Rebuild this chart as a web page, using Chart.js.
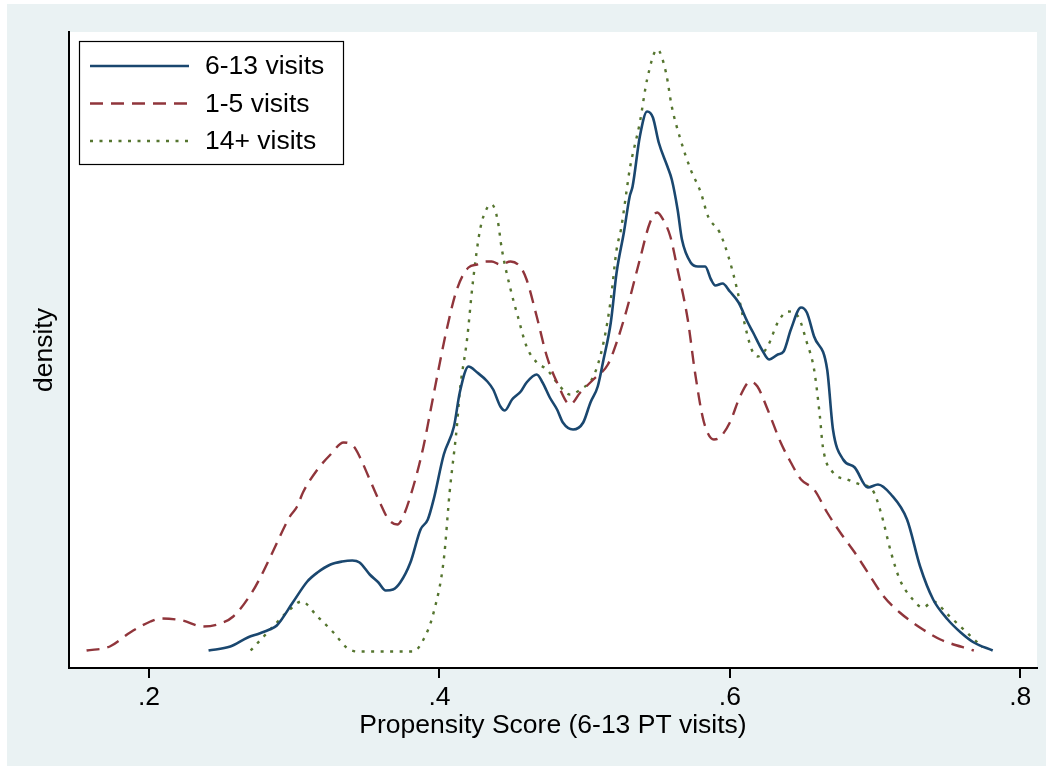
<!DOCTYPE html>
<html>
<head>
<meta charset="utf-8">
<script src="https://cdn.jsdelivr.net/npm/chart.js@4.4.1/dist/chart.umd.min.js"></script>
<style>
  html, body { margin: 0; padding: 0; background: #ffffff; }
  #wrap { position: absolute; left: 7px; top: 4px; width: 1039px; height: 762px; background: #eaf2f3; }
  canvas { display: block; }
</style>
</head>
<body>
<div id="wrap"><canvas id="c"></canvas></div>
<script>
// ---- data ----
const seriesNames = ['6-13 visits', '1-5 visits', '14+ visits'];

const visits6to13X = [0.241,0.256,0.268,0.276,0.283,0.288,0.299,0.309,0.316,0.325,0.333,0.340,0.345,0.352,0.358,0.363,0.368,0.373,0.380,0.387,0.392,0.396,0.403,0.410,0.414,0.420,0.426,0.433,0.437,0.442,0.445,0.450,0.456,0.460,0.467,0.471,0.476,0.481,0.485,0.492,0.499,0.504,0.509,0.513,0.518,0.522,0.527,0.531,0.533,0.538,0.543,0.547,0.551,0.557,0.560,0.564,0.567,0.573,0.578,0.583,0.587,0.590,0.595,0.600,0.606,0.612,0.616,0.622,0.627,0.633,0.637,0.642,0.649,0.653,0.658,0.667,0.671,0.678,0.686,0.695,0.702,0.711,0.722,0.731,0.740,0.750,0.759,0.768,0.781];
const visits6to13Y = [0.01,0.05,0.14,0.18,0.22,0.26,0.49,0.70,0.79,0.87,0.90,0.91,0.89,0.77,0.69,0.61,0.62,0.69,0.89,1.22,1.32,1.52,1.97,2.25,2.59,2.85,2.79,2.70,2.62,2.45,2.41,2.52,2.60,2.69,2.77,2.69,2.54,2.42,2.29,2.22,2.29,2.49,2.65,2.92,3.29,3.79,4.19,4.55,4.65,5.15,5.40,5.34,5.09,4.85,4.72,4.42,4.12,3.89,3.85,3.85,3.72,3.66,3.68,3.60,3.49,3.30,3.19,3.02,2.92,2.97,3.00,3.22,3.44,3.39,3.15,2.82,2.22,1.92,1.84,1.64,1.67,1.57,1.32,0.85,0.52,0.32,0.19,0.09,0.01];

const visits1to5X = [0.157,0.173,0.187,0.201,0.208,0.223,0.237,0.247,0.258,0.270,0.277,0.285,0.297,0.302,0.306,0.316,0.325,0.334,0.341,0.345,0.352,0.359,0.365,0.371,0.375,0.382,0.389,0.394,0.398,0.405,0.412,0.420,0.426,0.432,0.436,0.442,0.449,0.456,0.460,0.467,0.474,0.481,0.490,0.497,0.506,0.516,0.522,0.529,0.538,0.545,0.550,0.554,0.559,0.564,0.571,0.576,0.582,0.589,0.593,0.600,0.607,0.614,0.619,0.626,0.635,0.642,0.649,0.658,0.667,0.676,0.686,0.695,0.706,0.717,0.733,0.745,0.768];
const visits1to5Y = [0.01,0.05,0.19,0.30,0.33,0.31,0.25,0.27,0.35,0.57,0.75,0.99,1.35,1.45,1.59,1.82,1.97,2.09,2.05,1.95,1.72,1.49,1.32,1.27,1.35,1.65,2.05,2.42,2.72,3.22,3.62,3.84,3.87,3.90,3.90,3.87,3.90,3.84,3.72,3.35,2.95,2.69,2.47,2.59,2.72,2.87,3.09,3.42,3.92,4.29,4.39,4.32,4.15,3.82,3.32,2.79,2.30,2.12,2.14,2.29,2.55,2.70,2.65,2.42,2.09,1.89,1.72,1.62,1.39,1.19,0.99,0.79,0.55,0.39,0.22,0.12,0.01];

const visits14plusX = [0.270,0.279,0.288,0.297,0.305,0.316,0.327,0.336,0.343,0.382,0.389,0.396,0.403,0.407,0.412,0.414,0.419,0.423,0.428,0.433,0.436,0.440,0.443,0.449,0.454,0.460,0.467,0.474,0.483,0.490,0.497,0.506,0.513,0.518,0.522,0.525,0.529,0.531,0.538,0.543,0.550,0.556,0.560,0.566,0.573,0.580,0.585,0.593,0.599,0.605,0.609,0.615,0.619,0.626,0.633,0.640,0.647,0.653,0.658,0.662,0.664,0.671,0.681,0.690,0.698,0.704,0.711,0.717,0.726,0.733,0.740,0.750,0.761,0.774];
const visits14plusY = [0.01,0.15,0.29,0.42,0.50,0.35,0.19,0.04,0.00,0.00,0.12,0.39,0.92,1.59,2.25,2.60,3.12,3.69,4.22,4.44,4.47,4.32,4.02,3.62,3.35,3.05,2.89,2.82,2.65,2.57,2.62,2.75,3.09,3.52,4.02,4.22,4.62,4.82,5.29,5.72,6.02,5.79,5.45,5.12,4.82,4.59,4.35,4.19,3.95,3.62,3.35,3.02,2.95,3.05,3.29,3.40,3.35,3.09,2.82,2.35,2.05,1.79,1.72,1.67,1.62,1.39,0.99,0.72,0.52,0.44,0.50,0.37,0.22,0.04];

const xTickValues = [0.2, 0.4, 0.6, 0.8];
const xTickLabels = ['.2', '.4', '.6', '.8'];
const xTitle = 'Propensity Score (6-13 PT visits)';
const yTitle = 'density';

// ---- build ----
const pairs = (xs, ys) => xs.map((x, i) => ({ x: x, y: ys[i] }));
const FONT = "'Liberation Sans', Arial, Helvetica, sans-serif";
const FS = 26.5;

const datasets = [
  { label: seriesNames[0], data: pairs(visits6to13X, visits6to13Y), borderColor: '#1a476f', borderWidth: 2.6, borderDash: [] },
  { label: seriesNames[1], data: pairs(visits1to5X, visits1to5Y), borderColor: '#90353b', borderWidth: 2.4, borderDash: [13, 8] },
  { label: seriesNames[2], data: pairs(visits14plusX, visits14plusY), borderColor: '#55752f', borderWidth: 2.4, borderDash: [3, 6.5] }
].map(d => Object.assign(d, { pointRadius: 0, fill: false, cubicInterpolationMode: 'monotone', borderCapStyle: 'butt' }));

const plotBg = {
  id: 'plotBg',
  beforeDraw(chart) {
    const { ctx, chartArea: a } = chart;
    ctx.save();
    ctx.fillStyle = '#ffffff';
    ctx.fillRect(a.left, a.top, a.right - a.left, a.bottom - a.top);
    ctx.restore();
  }
};

const boxLegend = {
  id: 'boxLegend',
  afterDraw(chart) {
    const ctx = chart.ctx;
    const bx = 72, by = 37, bw = 264, bh = 123;
    ctx.save();
    ctx.fillStyle = '#ffffff';
    ctx.fillRect(bx, by, bw, bh);
    ctx.strokeStyle = '#000000';
    ctx.lineWidth = 1.2;
    ctx.strokeRect(bx + 0.5, by + 0.5, bw, bh);
    const rows = [62, 99.5, 137];
    chart.data.datasets.forEach((ds, i) => {
      ctx.beginPath();
      ctx.setLineDash(ds.borderDash || []);
      ctx.strokeStyle = ds.borderColor;
      ctx.lineWidth = ds.borderWidth;
      ctx.moveTo(83, rows[i]);
      ctx.lineTo(182, rows[i]);
      ctx.stroke();
      ctx.setLineDash([]);
      ctx.fillStyle = '#000000';
      ctx.font = FS + 'px ' + FONT;
      ctx.textBaseline = 'middle';
      ctx.textAlign = 'left';
      ctx.fillText(ds.label, 198, rows[i] + 1);
    });
    ctx.restore();
  }
};

new Chart(document.getElementById('c'), {
  type: 'line',
  data: { datasets: datasets },
  plugins: [plotBg, boxLegend],
  options: {
    responsive: true,
    maintainAspectRatio: false,
    animation: false,
    devicePixelRatio: 1,
    layout: { padding: { top: 28, right: 9, left: 0, bottom: 0 } },
    plugins: { legend: { display: false }, tooltip: { enabled: false } },
    scales: {
      x: {
        type: 'linear',
        min: 0.1449,
        max: 0.8115,
        afterFit(s) { s.height = 98; },
        afterBuildTicks(s) { s.ticks = xTickValues.map(v => ({ value: v })); },
        ticks: {
          autoSkip: false, maxRotation: 0, minRotation: 0, padding: 4,
          color: '#000000', font: { family: FONT, size: FS },
          callback: (v) => { const i = xTickValues.findIndex(t => Math.abs(t - v) < 1e-9); return i >= 0 ? xTickLabels[i] : ''; }
        },
        grid: { display: true, drawOnChartArea: false, drawTicks: true, tickLength: 10, color: '#000000', lineWidth: 2 },
        border: { display: true, color: '#000000', width: 2 },
        title: { display: true, text: xTitle, color: '#000000', font: { family: FONT, size: FS }, padding: { top: 0, bottom: 24 } }
      },
      y: {
        type: 'linear',
        min: -0.165,
        max: 6.195,
        afterFit(s) { s.width = 62; },
        ticks: { display: false },
        grid: { display: false },
        border: { display: true, color: '#000000', width: 2 },
        title: { display: true, text: yTitle, color: '#000000', font: { family: FONT, size: FS }, padding: { top: 22, bottom: 0 } }
      }
    }
  }
});
</script>
</body>
</html>
